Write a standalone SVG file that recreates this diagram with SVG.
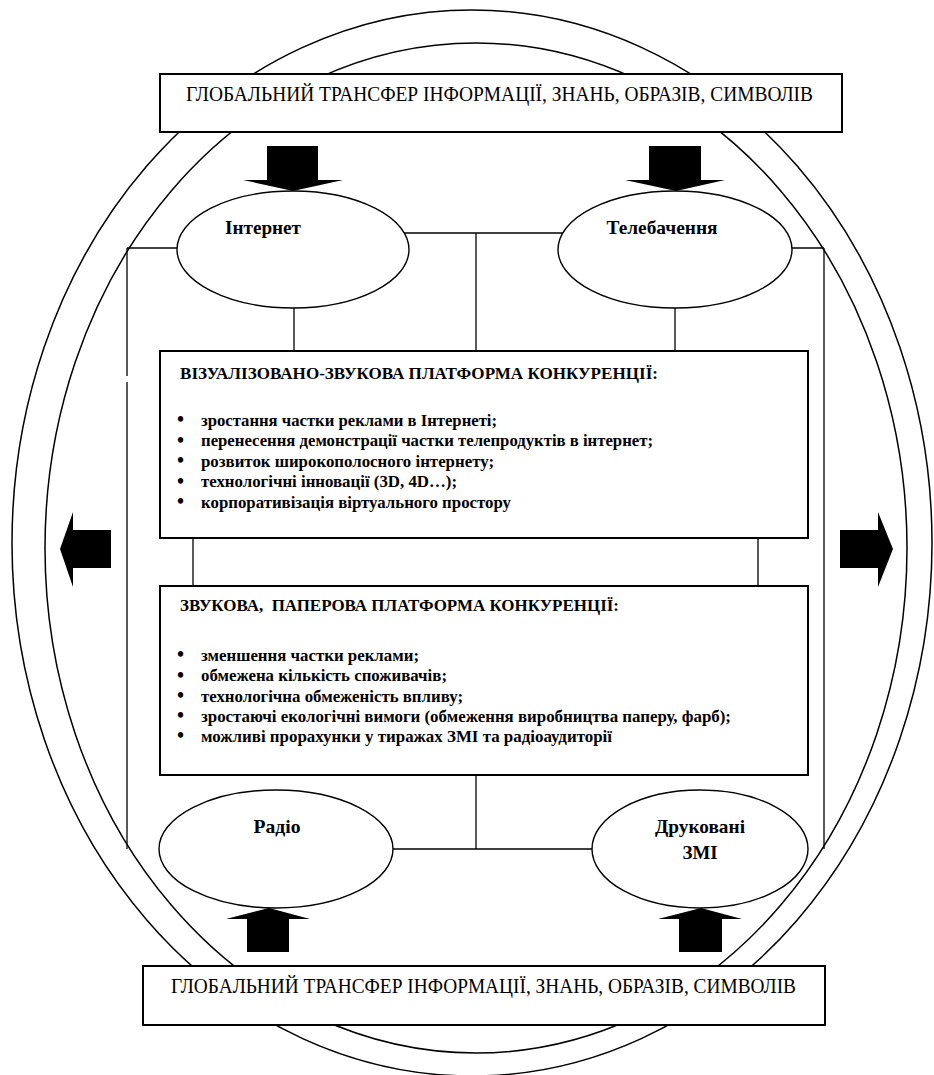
<svg xmlns="http://www.w3.org/2000/svg" width="934" height="1075" viewBox="0 0 934 1075" font-family="'Liberation Serif','Times New Roman','DejaVu Serif',serif">
<style>
.bg{fill:#fff}
.ring{fill:none;stroke:#000;stroke-width:1.5}
.ln{fill:none;stroke:#000;stroke-width:1.3}
.box{fill:#fff;stroke:#000;stroke-width:2}
.node{fill:#fff;stroke:#000;stroke-width:1.4}
.arr{fill:#000}
.t{font-family:"Liberation Serif","Times New Roman","DejaVu Serif",serif;fill:#000}
.g{font-size:20px}
.h{font-size:17px;font-weight:bold}
.b{font-size:17px;font-weight:bold}
.d{font-size:20px;font-weight:bold}
.n{font-size:19px;font-weight:bold;text-anchor:middle}
</style>
<rect class="bg" x="0" y="0" width="934" height="1075"/>
<g id="rings">
<ellipse class="ring" cx="472" cy="543" rx="460" ry="533"/>
<ellipse class="ring" cx="476" cy="548" rx="431" ry="505"/>
</g>
<g id="connectors">
<line class="ln" x1="404" y1="233" x2="563" y2="233"/>
<line class="ln" x1="476" y1="233" x2="476" y2="351"/>
<line class="ln" x1="180" y1="248" x2="127" y2="248"/>
<line class="ln" x1="127" y1="248" x2="127" y2="376"/>
<line class="ln" x1="127" y1="382" x2="127" y2="849"/>
<line class="ln" x1="789" y1="248" x2="824" y2="248"/>
<line class="ln" x1="824" y1="248" x2="824" y2="849"/>
<line class="ln" x1="294" y1="306" x2="294" y2="351"/>
<line class="ln" x1="675" y1="306" x2="675" y2="351"/>
<line class="ln" x1="193" y1="538" x2="193" y2="586"/>
<line class="ln" x1="758" y1="538" x2="758" y2="586"/>
<line class="ln" x1="476" y1="775" x2="476" y2="849"/>
<line class="ln" x1="390" y1="849" x2="596" y2="849"/>
</g>
<g id="top-transfer">
<rect class="box" x="160" y="74" width="682" height="58"/>
<text class="t g" x="186" y="101" textLength="627" lengthAdjust="spacingAndGlyphs">ГЛОБАЛЬНИЙ ТРАНСФЕР ІНФОРМАЦІЇ, ЗНАНЬ, ОБРАЗІВ, СИМВОЛІВ</text>
</g>
<g id="bottom-transfer">
<rect class="box" x="143" y="966" width="682" height="59"/>
<text class="t g" x="171" y="993" textLength="625" lengthAdjust="spacingAndGlyphs">ГЛОБАЛЬНИЙ ТРАНСФЕР ІНФОРМАЦІЇ, ЗНАНЬ, ОБРАЗІВ, СИМВОЛІВ</text>
</g>
<g id="internet">
<ellipse class="node" cx="293" cy="249.5" rx="116" ry="58.5"/>
<text class="t n" x="263" y="234" textLength="76" lengthAdjust="spacingAndGlyphs">Інтернет</text>
</g>
<g id="tv">
<ellipse class="node" cx="675" cy="249.5" rx="117" ry="58.5"/>
<text class="t n" x="662" y="234" textLength="111" lengthAdjust="spacingAndGlyphs">Телебачення</text>
</g>
<g id="radio">
<ellipse class="node" cx="276" cy="849" rx="117" ry="59"/>
<text class="t n" x="277" y="833" textLength="47" lengthAdjust="spacingAndGlyphs">Радіо</text>
</g>
<g id="print">
<ellipse class="node" cx="700" cy="849" rx="108" ry="59"/>
<text class="t n" x="700" y="833" textLength="90" lengthAdjust="spacingAndGlyphs">Друковані</text>
<text class="t n" x="700" y="859" textLength="35" lengthAdjust="spacingAndGlyphs">ЗМІ</text>
</g>
<g id="platform-visual">
<rect class="box" x="160" y="351" width="648" height="187"/>
<text class="t h" x="180" y="379" textLength="478" lengthAdjust="spacingAndGlyphs">ВІЗУАЛІЗОВАНО-ЗВУКОВА ПЛАТФОРМА КОНКУРЕНЦІЇ:</text>
<g class="t b">
<text class="d" x="177" y="426">•</text><text x="201" y="425.5" textLength="296" lengthAdjust="spacingAndGlyphs">зростання частки реклами в Інтернеті;</text>
<text class="d" x="177" y="446.5">•</text><text x="201" y="446" textLength="452" lengthAdjust="spacingAndGlyphs">перенесення демонстрації частки телепродуктів в інтернет;</text>
<text class="d" x="177" y="467">•</text><text x="201" y="466.5" textLength="293" lengthAdjust="spacingAndGlyphs">розвиток широкополосного інтернету;</text>
<text class="d" x="177" y="487.5">•</text><text x="201" y="487" textLength="256" lengthAdjust="spacingAndGlyphs">технологічні інновації (3D, 4D…);</text>
<text class="d" x="177" y="508">•</text><text x="201" y="507.5" textLength="310" lengthAdjust="spacingAndGlyphs">корпоративізація віртуального простору</text>
</g>
</g>
<g id="platform-audio-paper">
<rect class="box" x="160" y="586" width="648" height="189"/>
<text class="t h" x="180" y="611" textLength="439" lengthAdjust="spacingAndGlyphs" xml:space="preserve">ЗВУКОВА,  ПАПЕРОВА ПЛАТФОРМА КОНКУРЕНЦІЇ:</text>
<g class="t b">
<text class="d" x="177" y="661">•</text><text x="201" y="660.5" textLength="218" lengthAdjust="spacingAndGlyphs">зменшення частки реклами;</text>
<text class="d" x="177" y="681.5">•</text><text x="201" y="681" textLength="246" lengthAdjust="spacingAndGlyphs">обмежена кількість споживачів;</text>
<text class="d" x="177" y="702">•</text><text x="201" y="701.5" textLength="262" lengthAdjust="spacingAndGlyphs">технологічна обмеженість впливу;</text>
<text class="d" x="177" y="722">•</text><text x="201" y="721.5" textLength="530" lengthAdjust="spacingAndGlyphs">зростаючі екологічні вимоги (обмеження виробництва паперу, фарб);</text>
<text class="d" x="177" y="742">•</text><text x="201" y="741.5" textLength="411" lengthAdjust="spacingAndGlyphs">можливі прорахунки у тиражах ЗМІ та радіоаудиторії</text>
</g>
</g>
<g id="arrows">
<polygon class="arr" points="267,146 318,146 318,180 343,180 293,191 243,180 267,180"/>
<polygon class="arr" points="649,146 701,146 701,180 725,180 676,191 625,180 649,180"/>
<polygon class="arr" points="247,952 289,952 289,919 310,919 269,908 226,919 247,919"/>
<polygon class="arr" points="679,952 722,952 722,919 742,919 701,908 658,919 679,919"/>
<polygon class="arr" points="111,530 111,568 73,568 73,587 60,549 73,512 73,530"/>
<polygon class="arr" points="840,530 840,568 878,568 878,587 893,549 878,512 878,530"/>
</g>
</svg>
